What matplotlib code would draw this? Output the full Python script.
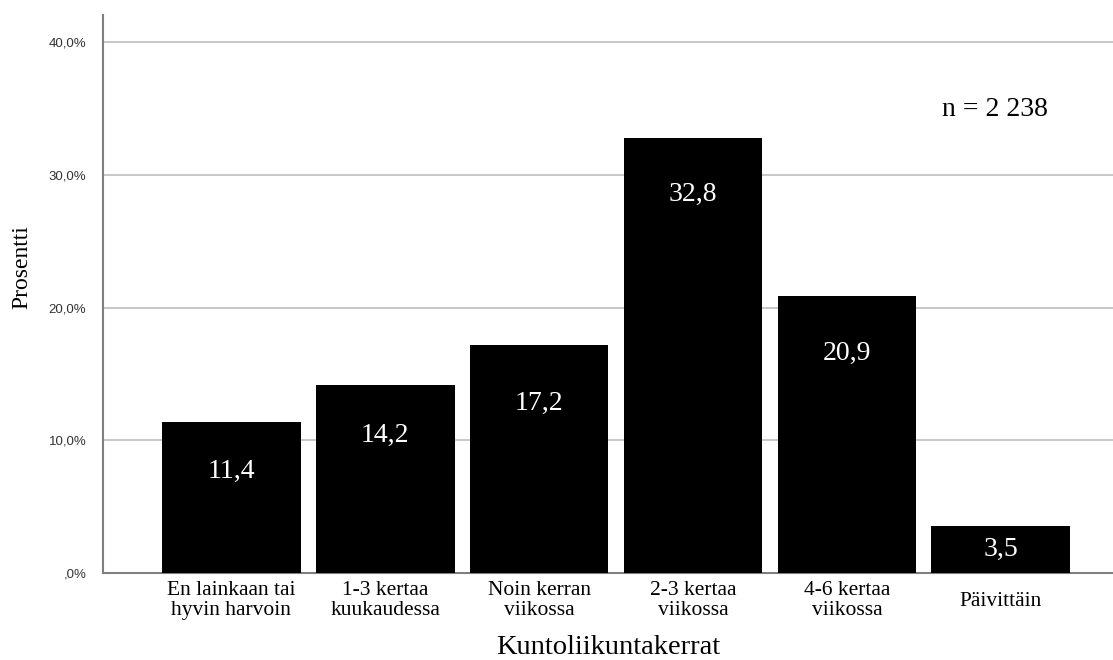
import matplotlib
matplotlib.use('Agg')
import matplotlib.pyplot as plt
import matplotlib.transforms as mtransforms
import numpy as np

# Data
categories = ['En lainkaan tai\nhyvin harvoin', '1-3 kertaa\nkuukaudessa', 'Noin kerran\nviikossa',
              '2-3 kertaa\nviikossa', '4-6 kertaa\nviikossa', 'Päivittäin']
percentages = [11.4, 14.2, 17.2, 32.8, 20.9, 3.5]
y_ticks = [0, 10, 20, 30, 40]
y_tick_labels = [',0%', '10,0%', '20,0%', '30,0%', '40,0%']
n_label = 'n = 2 238'

# distance (px) from bar top to the centre of its value label
label_drop_px = [47, 48, 56, 54, 55, 20]

serif = ['Liberation Serif', 'DejaVu Serif']
sans = ['Liberation Sans', 'DejaVu Sans']

fig = plt.figure(figsize=(11.13, 6.6), dpi=100)
ax = fig.add_axes([0.0925, 0.132, 0.9075, 0.845])

x = np.arange(len(categories))
ax.bar(x, percentages, width=0.9, color='black', zorder=3)

# value labels inside the bars
for xi, v, drop in zip(x, percentages, label_drop_px):
    ax.annotate(f'{v:.1f}'.replace('.', ','), xy=(xi, v), xytext=(0, -drop * 0.72),
                textcoords='offset points', ha='center', va='center_baseline',
                color='white', fontsize=20, family=serif, zorder=4)

ax.set_xlim(-0.835, 5.73)
ax.set_ylim(0, 42.05)

ax.set_yticks(y_ticks)
ax.set_yticklabels(y_tick_labels, family=sans, fontsize=9.5, color='#333333')
ax.set_xticks(x)
ax.set_xticklabels(categories, family=serif, fontsize=15.5, linespacing=1.05)
ax.tick_params(axis='both', length=0)
ax.tick_params(axis='y', pad=12)
ax.tick_params(axis='x', pad=6)

# single-line labels sit in the middle of the two-line block
for lbl in ax.get_xticklabels():
    if '\n' not in lbl.get_text():
        lbl.set_transform(lbl.get_transform() +
                          mtransforms.ScaledTranslation(0, -0.105, fig.dpi_scale_trans))

ax.grid(axis='y', color='#bdbdbd', linewidth=1.2, zorder=0)
ax.set_axisbelow(True)

for side in ['top', 'right']:
    ax.spines[side].set_visible(False)
for side in ['left', 'bottom']:
    ax.spines[side].set_color('#7f7f7f')
    ax.spines[side].set_linewidth(1.5)

fig.text(22 / 1113, 1 - 267 / 660, 'Prosentti', rotation=90, ha='center', va='center',
         family=serif, fontsize=17)
ax.set_xlabel('Kuntoliikuntakerrat', family=serif, fontsize=20.5, labelpad=11)

ax.text(0.883, 0.836, n_label, transform=ax.transAxes, ha='center', va='center_baseline',
        fontsize=20, family=serif)

fig.savefig('out.png', dpi=100)
